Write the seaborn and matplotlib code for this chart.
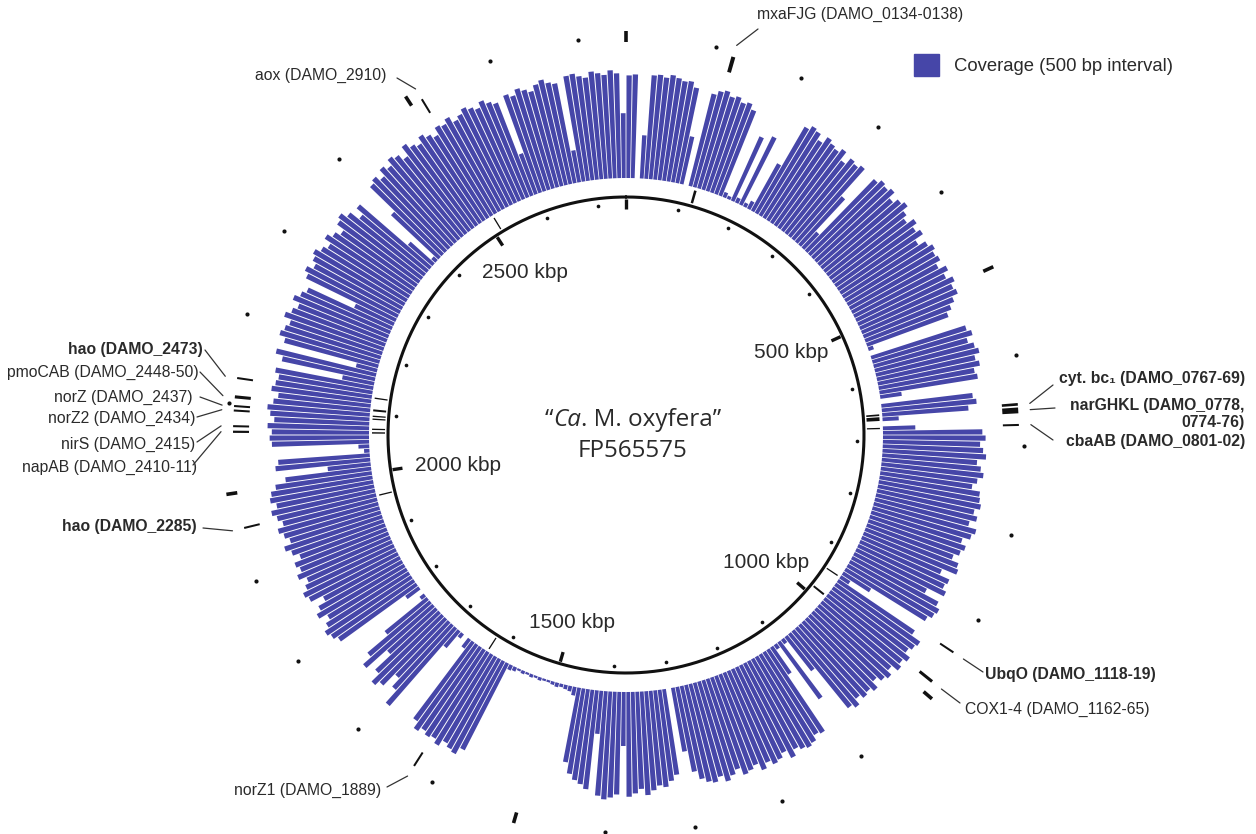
import numpy as np
import matplotlib
matplotlib.use("Agg")
import matplotlib.pyplot as plt
import seaborn as sns
from matplotlib.patches import Patch

# ---------------------------------------------------------------- data
GENOME_KBP = 2752.854          # FP565575 chromosome length
TICK_STEP_KBP = 100            # minor position ticks
MAJOR_STEP_KBP = 500           # labelled position ticks

# read coverage, one value per 1/360 of the chromosome (relative units, 0-100)
coverage = [
    95, 96, 0, 40, 96, 97, 95, 98, 96, 94,
    95, 90, 45, 0, 88, 92, 94, 90, 92, 88,
    90, 85, 5, 3, 65, 5, 70, 4, 8, 50,
    92, 96, 94, 88, 95, 92, 90, 94, 85, 92,
    90, 93, 60, 20, 92, 96, 94, 97, 90, 95,
    98, 92, 88, 95, 90, 94, 85, 92, 96, 93,
    95, 90, 97, 92, 98, 94, 96, 90, 85, 80,
    5, 0, 92, 96, 90, 95, 98, 93, 96, 90,
    92, 20, 0, 85, 88, 80, 15, 0, 30, 92,
    95, 90, 93, 96, 88, 92, 95, 90, 86, 94,
    95, 97, 92, 96, 90, 98, 95, 88, 93, 90,
    85, 92, 94, 80, 90, 88, 92, 75, 90, 94,
    92, 88, 30, 10, 85, 95, 93, 90, 96, 92,
    95, 88, 93, 90, 85, 92, 88, 90, 86, 92,
    88, 40, 5, 65, 5, 30, 92, 90, 95, 97,
    95, 92, 98, 90, 94, 96, 92, 97, 90, 93,
    95, 88, 92, 96, 90, 94, 92, 88, 80, 60,
    0, 80, 85, 90, 88, 92, 96, 90, 94, 97,
    50, 95, 98, 100, 97, 40, 92, 88, 85, 80,
    70, 8, 5, 4, 3, 4, 3, 2, 2, 3,
    2, 3, 2, 3, 2, 4, 5, 90, 97, 95,
    92, 98, 94, 96, 93, 97, 90, 10, 0, 5,
    20, 95, 80, 70, 85, 90, 80, 60, 85, 75,
    50, 5, 0, 15, 88, 92, 95, 90, 85, 93,
    88, 80, 92, 95, 90, 86, 93, 88, 91, 84,
    90, 95, 88, 92, 96, 90, 94, 98, 92, 97,
    95, 90, 80, 40, 88, 85, 5, 10, 90, 92,
    90, 94, 88, 92, 95, 90, 86, 93, 90, 88,
    92, 30, 88, 95, 20, 90, 96, 93, 90, 97,
    92, 88, 95, 90, 86, 40, 92, 96, 90, 94,
    97, 92, 88, 95, 90, 85, 93, 96, 90, 80,
    88, 30, 5, 60, 92, 95, 90, 97, 93, 99,
    96, 90, 100, 95, 92, 98, 94, 90, 97, 95,
    99, 93, 96, 100, 97, 94, 99, 95, 92, 40,
    96, 93, 98, 95, 92, 97, 100, 96, 94, 30,
    99, 100, 97, 95, 100, 98, 96, 100, 97, 60,
]

# annotated genes: label, start (kbp), span (kbp), bold label
gene_labels = [
    "mxaFJG (DAMO_0134-0138)", "cyt. bc\u2081 (DAMO_0767-69)", "narGHKL (DAMO_0778,",
    "cbaAB (DAMO_0801-02)", "UbqO (DAMO_1118-19)", "COX1-4 (DAMO_1162-65)",
    "norZ1 (DAMO_1889)", "hao (DAMO_2285)", "napAB (DAMO_2410-11)",
    "nirS (DAMO_2415)", "norZ2 (DAMO_2434)", "norZ (DAMO_2437)",
    "pmoCAB (DAMO_2448-50)", "hao (DAMO_2473)", "aox (DAMO_2910)",
]
gene_start_kbp = [119.0, 652.5, 657.5, 676.0, 944.0, 983.5,
                  1625.0, 1959.0, 2067.0, 2073.5, 2091.0, 2096.0,
                  2105.5, 2127.5, 2512.5]
gene_span_kbp = [4.5, 3.0, 6.5, 2.0, 2.0, 3.5,
                 2.0, 2.0, 2.5, 2.0, 2.0, 2.0,
                 3.5, 1.8, 2.0]
gene_bold = [False, True, True, True, True, False,
             False, True, False, False, False, False,
             False, True, False]

# label placement (figure pixels from the top-left), alignment and leader start
label_xy = [(757, 14), (1245, 378), (1245, 405), (1245, 441), (985, 675), (965, 709),
            (234, 790), (197, 527), (197, 467), (195, 444), (195, 418), (193, 397),
            (199, 372), (203, 349), (386, 75)]
label_ha = ["left", "right", "right", "right", "left", "left",
            "left", "right", "right", "right", "right", "right",
            "right", "right", "right"]
leader_xy = [(758, 29), (1053, 385), (1055, 408), (1053, 440), (983, 672), (960, 703),
             (387, 787), (203, 528), (193, 465), (197, 442), (197, 417), (200, 397),
             (200, 372), (205, 350), (397, 78)]

scale_labels = ["500 kbp", "1000 kbp", "1500 kbp", "2000 kbp", "2500 kbp"]
scale_label_xy = [(791, 352), (766, 562), (572, 622), (458, 465), (525, 272)]

# ---------------------------------------------------------------- style
BLUE = "#4646a8"
INK = "#111111"
TEXT = "#2a2a2a"

sns.set_theme(style="white")
plt.rcParams["font.family"] = ["Liberation Sans", "DejaVu Sans"]

W, H = 1256, 834
CX, CY = 626, 435
RMAX = 420
R_CIRCLE = 238
R_TICK_IN = 231
R_GENE_IN = (241, 254)
R_COV = 257
COV_PX = 1.08
R_GENE_OUT = (377, 393)
R_TICK_OUT = 398

fig = plt.figure(figsize=(W / 100, H / 100), dpi=100)
fig.patch.set_facecolor("white")
ax = fig.add_axes([(CX - RMAX) / W, (H - CY - RMAX) / H, 2 * RMAX / W, 2 * RMAX / H],
                  projection="polar")
ax.set_theta_zero_location("N")
ax.set_theta_direction(-1)
ax.set_ylim(0, RMAX)
ax.axis("off")


def kbp2rad(k):
    return np.asarray(k, dtype=float) / GENOME_KBP * 2 * np.pi


# coverage track
cov = np.asarray(coverage, dtype=float)
nwin = len(cov)
win = 2 * np.pi / nwin
theta_win = (np.arange(nwin) + 0.5) * win
ax.bar(theta_win, cov * COV_PX, width=win * 0.84, bottom=R_COV,
       color=BLUE, linewidth=0, zorder=2)

# chromosome circle
tt = np.linspace(0, 2 * np.pi, 1441)
ax.plot(tt, np.full_like(tt, R_CIRCLE), color=INK, lw=2.2, zorder=3)

# position ticks, inside the circle and mirrored outside the coverage track
ticks = np.arange(0, GENOME_KBP, TICK_STEP_KBP)
major = ticks[np.isclose(ticks % MAJOR_STEP_KBP, 0)]
minor = ticks[~np.isclose(ticks % MAJOR_STEP_KBP, 0)]
ax.scatter(kbp2rad(minor), np.full(len(minor), R_TICK_IN), s=7, color=INK, lw=0, zorder=3)
ax.scatter(kbp2rad(minor), np.full(len(minor), R_TICK_OUT), s=9, color=INK, lw=0, zorder=3)
for t in kbp2rad(major):
    ax.plot([t, t], [226, 236], color=INK, lw=2.4, solid_capstyle="butt", zorder=3)
    ax.plot([t, t], [393, 404], color=INK, lw=2.6, solid_capstyle="butt", zorder=3)

# gene marks on both rings
g_start = np.asarray(gene_start_kbp)
g_span = np.asarray(gene_span_kbp)
g_mid = kbp2rad(g_start + g_span / 2)
g_w = np.maximum(kbp2rad(g_span), np.deg2rad(0.3))
ax.bar(g_mid, R_GENE_IN[1] - R_GENE_IN[0], width=g_w, bottom=R_GENE_IN[0],
       color=INK, linewidth=0, zorder=3)
ax.bar(g_mid, R_GENE_OUT[1] - R_GENE_OUT[0], width=g_w, bottom=R_GENE_OUT[0],
       color=INK, linewidth=0, zorder=3)

# overlay in figure pixels for text and leaders
ov = fig.add_axes([0, 0, 1, 1], zorder=5)
ov.set_xlim(0, W)
ov.set_ylim(H, 0)
ov.axis("off")
ov.patch.set_alpha(0)

for lab, (lx, ly), ha, (px, py), th, bold in zip(gene_labels, label_xy, label_ha,
                                                   leader_xy, g_mid, gene_bold):
    ov.text(lx, ly, lab, ha=ha, va="center", fontsize=11.3, color=TEXT,
            fontweight="bold" if bold else "normal")
    ov.annotate("", xy=(th, 405), xycoords=ax.transData,
                xytext=(px, py), textcoords=ov.transData,
                arrowprops=dict(arrowstyle="-", lw=0.9, color="#333333",
                                shrinkA=0, shrinkB=0))
ov.text(1245, 422, "0774-76)", ha="right", va="center", fontsize=11.3,
        color=TEXT, fontweight="bold")

for lab, (lx, ly) in zip(scale_labels, scale_label_xy):
    ov.text(lx, ly, lab, ha="center", va="center", fontsize=15, color=TEXT)

# organism name in the centre
cfont = dict(family=["Open Sans", "DejaVu Sans"], fontsize=17.5, color=TEXT)
t1 = ov.text(0, 426, "\u201c", ha="left", va="baseline", **cfont)
t2 = ov.annotate("Ca", xy=(1, 0), xycoords=t1, va="bottom", ha="left",
                 style="italic", **cfont)
t3 = ov.annotate(". M. oxyfera\u201d", xy=(1, 0), xycoords=t2, va="bottom",
                 ha="left", **cfont)
fig.canvas.draw()
r = fig.canvas.get_renderer()
x0 = t1.get_window_extent(r).x0
x1 = t3.get_window_extent(r).x1
t1.set_x(633 - (x1 - x0) / 2)
ov.text(632, 451, "FP565575", ha="center", va="center", **cfont)

fig.legend(handles=[Patch(color=BLUE, label="Coverage (500 bp interval)")],
           loc="center left", bbox_to_anchor=(914 / W, 1 - 65 / H),
           frameon=False, fontsize=13.3, handlelength=1.35, handleheight=1.4,
           handletextpad=0.8, borderpad=0, borderaxespad=0, labelcolor=TEXT)

fig.savefig("out.png", dpi=100)
